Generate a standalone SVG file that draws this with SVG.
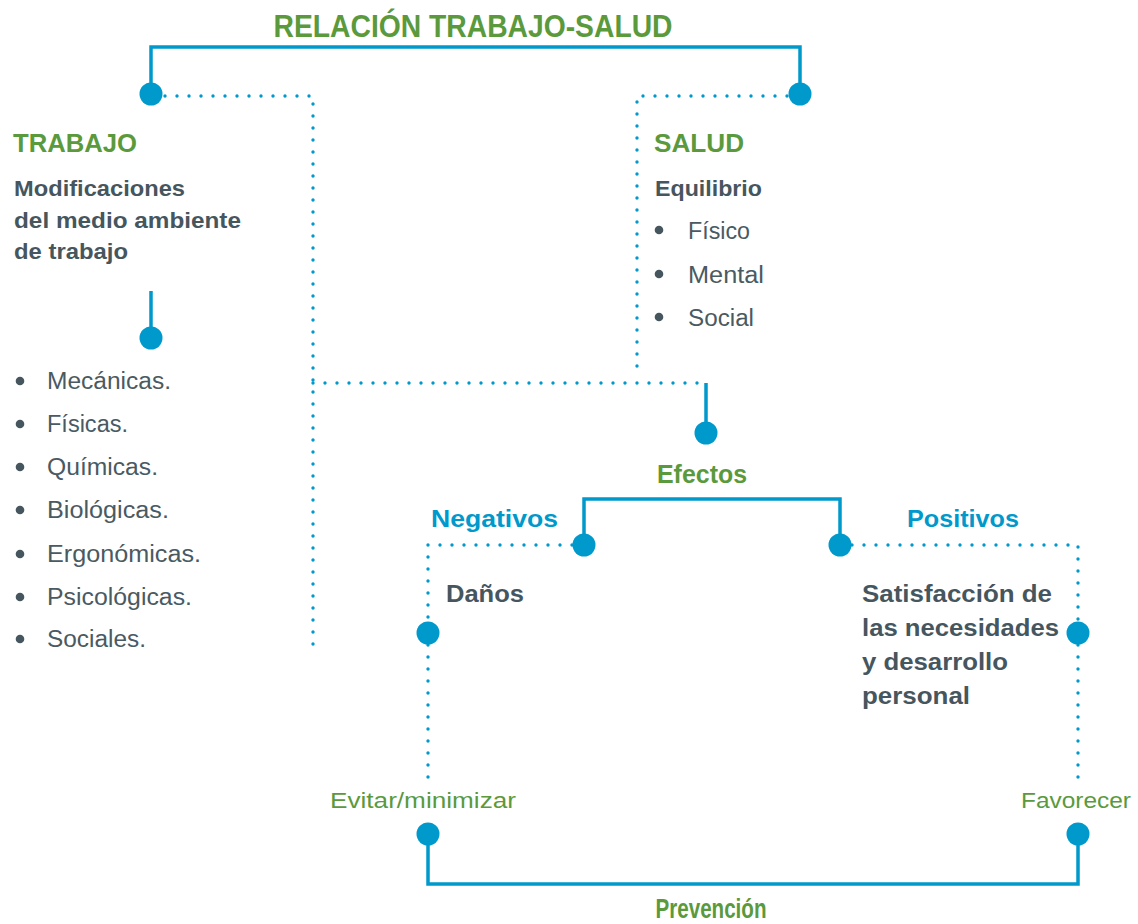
<svg xmlns="http://www.w3.org/2000/svg" width="1138" height="924" viewBox="0 0 1138 924">
<style>
  text { font-family: "Liberation Sans", Arial, sans-serif; }
  .green { fill: #5b9a3c; font-weight: bold; }
  .greenr { fill: #5b9a3c; font-size: 22px; }
  .blue { fill: #0099cc; font-weight: bold; font-size: 24px; }
  .dark { fill: #46565e; font-weight: bold; }
  .item { fill: #4a5a62; font-size: 23px; }
  .solid { fill: none; stroke: #0099cc; stroke-width: 3.5; }
  .dot { fill: none; stroke: #0099cc; stroke-width: 3.4; stroke-dasharray: 0 12; stroke-linecap: round; }
  .node { fill: #0099cc; }
  .bullet { fill: #46565e; }
</style>

<g id="connectors">
  <path class="solid" d="M151 94 V47 H800 V94"/>
  <path class="dot" d="M165 96 H313 V655"/>
  <path class="dot" d="M787 96 H637 V378"/>
  <path class="dot" d="M313 383 H706"/>
  <path class="solid" d="M706 383 V433"/>
  <path class="solid" d="M151 291 V338"/>
  <path class="solid" d="M584 545 V499 H840 V545"/>
  <path class="dot" d="M572 545 H428 V621"/>
  <path class="dot" d="M428 645 V785"/>
  <path class="dot" d="M852 545 H1078 V621"/>
  <path class="dot" d="M1078 645 V785"/>
  <path class="solid" d="M428 834 V884 H1078 V834"/>
</g>

<g id="title">
  <text class="green" x="473" y="37" font-size="32" text-anchor="middle" textLength="399" lengthAdjust="spacingAndGlyphs">RELACIÓN TRABAJO-SALUD</text>
  <circle class="node" cx="151" cy="94" r="11.5"/>
  <circle class="node" cx="800" cy="94" r="11.5"/>
</g>

<g id="trabajo">
  <text class="green" x="13" y="152" font-size="25" textLength="124" lengthAdjust="spacingAndGlyphs">TRABAJO</text>
  <text class="dark" x="14" y="196" font-size="21.5" textLength="171" lengthAdjust="spacingAndGlyphs">Modificaciones</text>
  <text class="dark" x="14" y="228" font-size="21.5" textLength="227" lengthAdjust="spacingAndGlyphs">del medio ambiente</text>
  <text class="dark" x="14" y="259" font-size="21.5" textLength="114" lengthAdjust="spacingAndGlyphs">de trabajo</text>
  <circle class="node" cx="151" cy="338" r="11.5"/>
</g>

<g id="trabajo-list">
  <circle class="bullet" cx="20" cy="381" r="4.3"/>
  <text class="item" x="47" y="389" textLength="124" lengthAdjust="spacingAndGlyphs">Mecánicas.</text>
  <circle class="bullet" cx="20" cy="424" r="4.3"/>
  <text class="item" x="47" y="432" textLength="81" lengthAdjust="spacingAndGlyphs">Físicas.</text>
  <circle class="bullet" cx="20" cy="467" r="4.3"/>
  <text class="item" x="47" y="475" textLength="111" lengthAdjust="spacingAndGlyphs">Químicas.</text>
  <circle class="bullet" cx="20" cy="510" r="4.3"/>
  <text class="item" x="47" y="518" textLength="122" lengthAdjust="spacingAndGlyphs">Biológicas.</text>
  <circle class="bullet" cx="20" cy="554" r="4.3"/>
  <text class="item" x="47" y="562" textLength="154" lengthAdjust="spacingAndGlyphs">Ergonómicas.</text>
  <circle class="bullet" cx="20" cy="597" r="4.3"/>
  <text class="item" x="47" y="605" textLength="145" lengthAdjust="spacingAndGlyphs">Psicológicas.</text>
  <circle class="bullet" cx="20" cy="639" r="4.3"/>
  <text class="item" x="47" y="647" textLength="99" lengthAdjust="spacingAndGlyphs">Sociales.</text>
</g>

<g id="salud">
  <text class="green" x="654" y="152" font-size="25" textLength="90" lengthAdjust="spacingAndGlyphs">SALUD</text>
  <text class="dark" x="655" y="196" font-size="21.5" textLength="107" lengthAdjust="spacingAndGlyphs">Equilibrio</text>
  <circle class="bullet" cx="659" cy="230" r="4.3"/>
  <text class="item" x="688" y="239" textLength="62" lengthAdjust="spacingAndGlyphs">Físico</text>
  <circle class="bullet" cx="659" cy="274" r="4.3"/>
  <text class="item" x="688" y="283" textLength="76" lengthAdjust="spacingAndGlyphs">Mental</text>
  <circle class="bullet" cx="659" cy="317" r="4.3"/>
  <text class="item" x="688" y="326" textLength="66" lengthAdjust="spacingAndGlyphs">Social</text>
</g>

<g id="efectos">
  <circle class="node" cx="706" cy="433" r="11.5"/>
  <text class="green" x="702" y="483" font-size="26" text-anchor="middle" textLength="90" lengthAdjust="spacingAndGlyphs">Efectos</text>
</g>

<g id="negativos">
  <text class="blue" x="431" y="527" textLength="127" lengthAdjust="spacingAndGlyphs">Negativos</text>
  <circle class="node" cx="584" cy="545" r="11.5"/>
</g>

<g id="positivos">
  <text class="blue" x="907" y="527" textLength="112" lengthAdjust="spacingAndGlyphs">Positivos</text>
  <circle class="node" cx="840" cy="545" r="11.5"/>
</g>

<g id="danos">
  <text class="dark" x="446" y="602" font-size="23" textLength="78" lengthAdjust="spacingAndGlyphs">Daños</text>
  <circle class="node" cx="428" cy="633" r="11.5"/>
</g>

<g id="satisfaccion">
  <text class="dark" x="862" y="602" font-size="23" textLength="190" lengthAdjust="spacingAndGlyphs">Satisfacción de</text>
  <text class="dark" x="862" y="636" font-size="23" textLength="197" lengthAdjust="spacingAndGlyphs">las necesidades</text>
  <text class="dark" x="862" y="670" font-size="23" textLength="146" lengthAdjust="spacingAndGlyphs">y desarrollo</text>
  <text class="dark" x="862" y="704" font-size="23" textLength="108" lengthAdjust="spacingAndGlyphs">personal</text>
  <circle class="node" cx="1078" cy="633" r="11.5"/>
</g>

<g id="evitar">
  <text class="greenr" x="330" y="808" textLength="186" lengthAdjust="spacingAndGlyphs">Evitar/minimizar</text>
  <circle class="node" cx="428" cy="834" r="11.5"/>
</g>

<g id="favorecer">
  <text class="greenr" x="1021" y="808" textLength="110" lengthAdjust="spacingAndGlyphs">Favorecer</text>
  <circle class="node" cx="1078" cy="834" r="11.5"/>
</g>

<g id="prevencion">
  <text class="green" x="711" y="918" font-size="28" text-anchor="middle" textLength="111" lengthAdjust="spacingAndGlyphs">Prevención</text>
</g>
</svg>
